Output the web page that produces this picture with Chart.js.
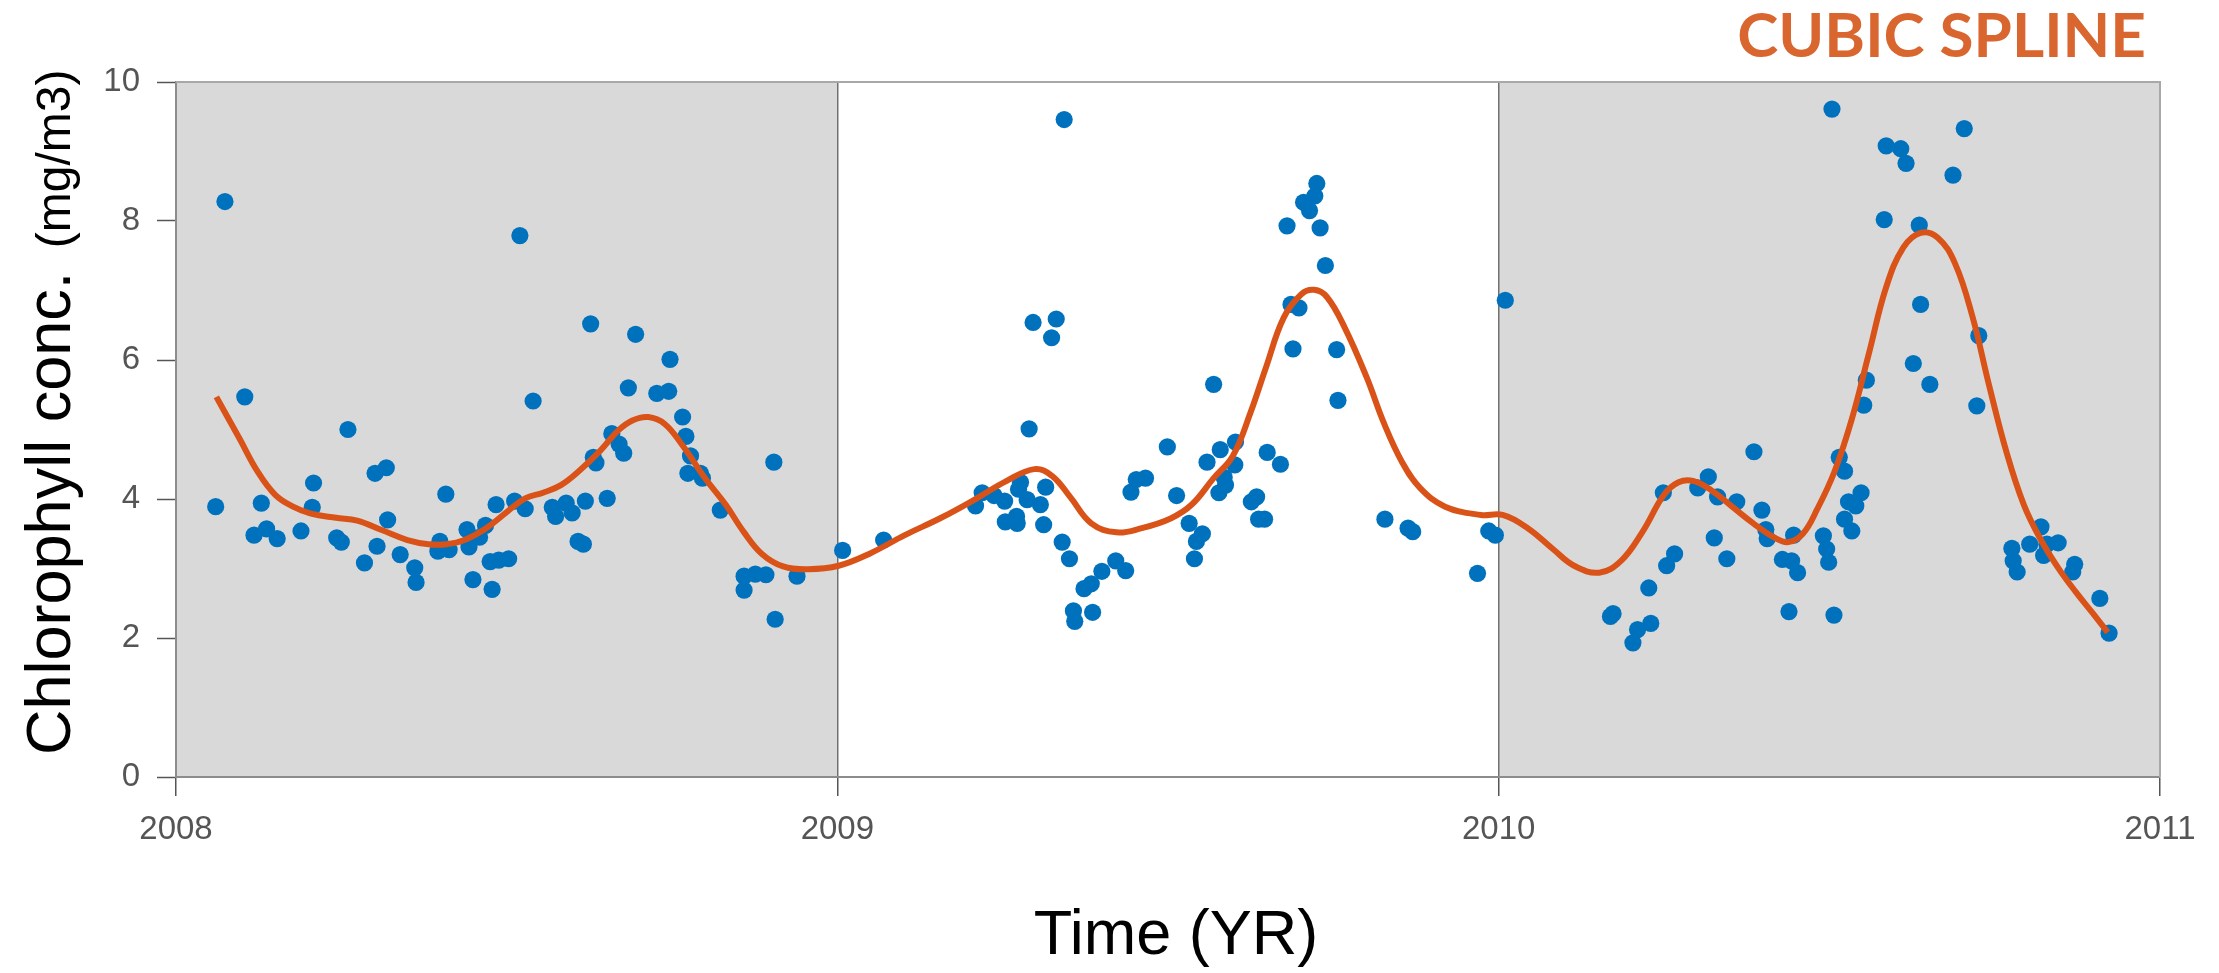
<!DOCTYPE html>
<html>
<head>
<meta charset="utf-8">
<title>Cubic spline</title>
<script src="https://cdn.jsdelivr.net/npm/chart.js@4.4.1/dist/chart.umd.min.js"></script>
<style>
  body { margin: 0; background: #fff; }
  canvas { display: block; }
</style>
</head>
<body>
<canvas id="chart" width="2219" height="973"></canvas>
<script>
// Observed chlorophyll samples (decimal year, mg/m3)
const sampleYears = [
  2008.060, 2008.074, 2008.104, 2008.129, 2008.118, 2008.137, 2008.153, 2008.189, 2008.206, 2008.208,
  2008.243, 2008.250, 2008.260, 2008.285, 2008.301, 2008.318, 2008.304, 2008.320, 2008.339, 2008.361,
  2008.363, 2008.399, 2008.396, 2008.413, 2008.408, 2008.440, 2008.443, 2008.459, 2008.468, 2008.449,
  2008.478, 2008.475, 2008.488, 2008.503, 2008.484, 2008.512, 2008.520, 2008.528, 2008.540, 2008.569,
  2008.574, 2008.590, 2008.599, 2008.608, 2008.616, 2008.619, 2008.627, 2008.631, 2008.635, 2008.652,
  2008.659, 2008.670, 2008.677, 2008.684, 2008.695, 2008.727, 2008.745, 2008.747, 2008.766, 2008.771,
  2008.778, 2008.774, 2008.793, 2008.796, 2008.823, 2008.904, 2008.859, 2008.876, 2008.892, 2008.859,
  2008.906, 2008.939,
  2009.008, 2009.070, 2009.219, 2009.209, 2009.237, 2009.253, 2009.277, 2009.274, 2009.287, 2009.307,
  2009.315, 2009.254, 2009.271, 2009.272, 2009.312, 2009.290, 2009.296, 2009.331, 2009.324, 2009.343,
  2009.340, 2009.351, 2009.373, 2009.384, 2009.357, 2009.359, 2009.386, 2009.400, 2009.421, 2009.436,
  2009.444, 2009.452, 2009.466, 2009.499, 2009.513, 2009.532, 2009.552, 2009.543, 2009.540, 2009.569,
  2009.559, 2009.579, 2009.602, 2009.585, 2009.587, 2009.601, 2009.577, 2009.626, 2009.650, 2009.670,
  2009.634, 2009.637, 2009.646, 2009.680, 2009.705, 2009.714, 2009.722, 2009.725, 2009.730, 2009.738,
  2009.686, 2009.698, 2009.689, 2009.755, 2009.757, 2009.828, 2009.863, 2009.870, 2009.968, 2009.985,
  2009.995,
  2010.010, 2010.173, 2010.169, 2010.210, 2010.203, 2010.230, 2010.227, 2010.254, 2010.266, 2010.249,
  2010.301, 2010.317, 2010.331, 2010.360, 2010.326, 2010.345, 2010.386, 2010.398, 2010.404, 2010.406,
  2010.429, 2010.439, 2010.446, 2010.443, 2010.452, 2010.491, 2010.496, 2010.499, 2010.507, 2010.504,
  2010.515, 2010.523, 2010.523, 2010.534, 2010.529, 2010.540, 2010.548, 2010.552, 2010.556, 2010.586,
  2010.608, 2010.616, 2010.583, 2010.636, 2010.638, 2010.627, 2010.652, 2010.687, 2010.704, 2010.726,
  2010.723, 2010.776, 2010.778, 2010.784, 2010.803, 2010.820, 2010.824, 2010.829, 2010.846, 2010.871,
  2010.868, 2010.909, 2010.923
];
const sampleValues = [
  3.89, 8.28, 5.47, 3.94, 3.48, 3.57, 3.43, 3.54, 3.88, 4.23,
  3.44, 3.38, 5.00, 3.08, 4.37, 4.45, 3.32, 3.70, 3.20, 3.01,
  2.80, 3.39, 3.25, 3.27, 4.07, 3.56, 3.31, 3.45, 3.62, 2.84,
  2.70, 3.10, 3.12, 3.14, 3.92, 3.97, 7.79, 3.86, 5.41, 3.88,
  3.75, 3.94, 3.80, 3.39, 3.35, 3.97, 6.52, 4.60, 4.52, 4.01,
  4.94, 4.79, 4.66, 5.60, 6.37, 5.52, 5.55, 6.01, 5.18, 4.90,
  4.62, 4.37, 4.37, 4.30, 3.84, 4.53, 2.89, 2.92, 2.91, 2.69,
  2.27, 2.89,
  3.26, 3.41, 4.09, 3.90, 4.05, 3.97, 4.24, 4.14, 3.99, 3.92,
  4.17, 3.67, 3.75, 3.65, 3.63, 5.01, 6.54, 6.59, 6.32, 9.46,
  3.38, 3.14, 2.71, 2.78, 2.39, 2.24, 2.37, 2.96, 3.11, 2.97,
  4.10, 4.28, 4.30, 4.75, 4.05, 3.65, 3.50, 3.39, 3.14, 5.65,
  4.53, 4.71, 4.82, 4.31, 4.20, 4.49, 4.09, 3.96, 4.67, 4.50,
  4.03, 3.71, 3.71, 7.93, 8.27, 8.15, 8.36, 8.54, 7.90, 7.36,
  6.80, 6.75, 6.16, 6.15, 5.42, 3.71, 3.58, 3.53, 2.93, 3.54,
  3.48,
  6.86, 2.35, 2.31, 2.12, 1.93, 2.21, 2.72, 3.04, 3.21, 4.09,
  4.16, 4.32, 4.03, 3.96, 3.44, 3.14, 4.68, 3.84, 3.56, 3.43,
  3.13, 2.38, 3.48, 3.11, 2.94, 3.47, 3.28, 3.09, 2.33, 9.61,
  4.60, 4.40, 3.71, 3.54, 3.96, 3.90, 4.09, 5.35, 5.71, 9.08,
  9.04, 8.83, 8.02, 7.94, 6.80, 5.95, 5.65, 8.66, 9.33, 6.35,
  5.34, 3.29, 3.11, 2.95, 3.35, 3.60, 3.19, 3.35, 3.37, 3.06,
  2.95, 2.57, 2.07
];

// Cubic spline fit
const splineYears = [
  2008.061, 2008.096, 2008.123, 2008.150, 2008.177, 2008.204, 2008.242, 2008.274, 2008.312, 2008.350,
  2008.382, 2008.409, 2008.436, 2008.469, 2008.501, 2008.528, 2008.555, 2008.582, 2008.609, 2008.642,
  2008.668, 2008.690, 2008.714, 2008.739, 2008.766, 2008.800, 2008.831, 2008.859, 2008.886, 2008.918,
  2008.956, 2009.002, 2009.048, 2009.102, 2009.157, 2009.211, 2009.254, 2009.298, 2009.325, 2009.352,
  2009.384, 2009.422, 2009.460, 2009.504, 2009.536, 2009.569, 2009.598, 2009.625, 2009.648, 2009.675,
  2009.702, 2009.721, 2009.740, 2009.767, 2009.800, 2009.827, 2009.854, 2009.881, 2009.919, 2009.973,
  2010.006, 2010.044, 2010.082, 2010.114, 2010.152, 2010.185, 2010.217, 2010.250, 2010.272, 2010.294,
  2010.321, 2010.353, 2010.385, 2010.418, 2010.438, 2010.460, 2010.482, 2010.508, 2010.534, 2010.560,
  2010.586, 2010.612, 2010.638, 2010.664, 2010.690, 2010.716, 2010.742, 2010.768, 2010.794, 2010.820,
  2010.846, 2010.872, 2010.898, 2010.921
];
const splineValues = [
  5.47, 4.87, 4.40, 4.06, 3.89, 3.79, 3.73, 3.69, 3.55, 3.41,
  3.35, 3.35, 3.41, 3.58, 3.82, 4.01, 4.09, 4.20, 4.40, 4.70,
  4.98, 5.13, 5.18, 5.08, 4.77, 4.30, 3.92, 3.52, 3.21, 3.03,
  2.99, 3.04, 3.21, 3.48, 3.73, 4.01, 4.25, 4.43, 4.33, 4.03,
  3.65, 3.52, 3.58, 3.72, 3.92, 4.30, 4.62, 5.25, 5.89, 6.61,
  6.95, 7.01, 6.91, 6.47, 5.76, 5.08, 4.53, 4.16, 3.89, 3.77,
  3.77, 3.58, 3.28, 3.04, 2.94, 3.11, 3.52, 4.06, 4.24, 4.26,
  4.13, 3.89, 3.65, 3.44, 3.38, 3.50, 3.86, 4.40, 5.15, 6.10,
  7.05, 7.62, 7.83, 7.76, 7.39, 6.64, 5.62, 4.67, 3.92, 3.41,
  3.01, 2.67, 2.36, 2.08
];

const yearTicks = [2008, 2009, 2010, 2011];
const valueTicks = [0, 2, 4, 6, 8, 10];
const shadedYears = [[2008, 2009], [2010, 2011]];

const chartTitle = 'CUBIC SPLINE';
const xTitle = 'Time (YR)';
const yTitleMain = 'Chlorophyll conc.';
const yTitleUnit = '(mg/m3)';

const tickFont = { family: "'Liberation Sans', Arial, sans-serif", size: 33 };

// Gray bands behind alternate years plus the frame
const bandsPlugin = {
  id: 'bands',
  beforeDraw(chart) {
    const { ctx, chartArea, scales } = chart;
    ctx.save();
    ctx.fillStyle = '#d9d9d9';
    shadedYears.forEach(([a, b]) => {
      const x1 = scales.x.getPixelForValue(a);
      const x2 = scales.x.getPixelForValue(b);
      ctx.fillRect(x1, chartArea.top, x2 - x1, chartArea.bottom - chartArea.top);
    });
    ctx.restore();
  },
  afterDraw(chart) {
    const { ctx, chartArea } = chart;
    ctx.save();
    ctx.strokeStyle = '#a8a8a8';
    ctx.lineWidth = 2;
    ctx.beginPath();
    ctx.moveTo(chartArea.left, chartArea.top);
    ctx.lineTo(chartArea.right, chartArea.top);
    ctx.lineTo(chartArea.right, chartArea.bottom);
    ctx.stroke();

    // title
    ctx.fillStyle = '#d9652f';
    ctx.font = "bold 62px Lato, 'Open Sans', sans-serif";
    ctx.textAlign = 'right';
    ctx.textBaseline = 'alphabetic';
    ctx.fillText(chartTitle, 2146, 57);

    // x axis title
    ctx.fillStyle = '#000';
    ctx.font = "63px 'Liberation Sans', Arial, sans-serif";
    ctx.textAlign = 'center';
    ctx.fillText(xTitle, 1176, 954);

    // y axis title, two sizes
    ctx.translate(70, 755);
    ctx.rotate(-Math.PI / 2);
    ctx.textAlign = 'left';
    ctx.font = "63px 'Liberation Sans', Arial, sans-serif";
    ctx.fillText(yTitleMain, 0, 0);
    const w = ctx.measureText(yTitleMain + ' ').width + 6;
    ctx.font = "48px 'Liberation Sans', Arial, sans-serif";
    ctx.fillText(yTitleUnit, w, 0);
    ctx.restore();
  }
};

const ctx = document.getElementById('chart').getContext('2d');

new Chart(ctx, {
  type: 'scatter',
  data: {
    datasets: [
      {
        type: 'line',
        label: 'Cubic spline',
        data: splineYears.map((x, i) => ({ x, y: splineValues[i] })),
        borderColor: '#d95319',
        borderWidth: 6,
        pointRadius: 0,
        tension: 0.4,
        fill: false,
        order: 0
      },
      {
        label: 'Samples',
        data: sampleYears.map((x, i) => ({ x, y: sampleValues[i] })),
        backgroundColor: '#0072bd',
        borderWidth: 0,
        pointRadius: 8.6,
        order: 1
      }
    ]
  },
  options: {
    responsive: false,
    animation: false,
    layout: { padding: { left: 0, right: 59, top: 82, bottom: 0 } },
    plugins: {
      legend: { display: false },
      tooltip: { enabled: false }
    },
    scales: {
      x: {
        type: 'linear',
        min: yearTicks[0],
        max: yearTicks[yearTicks.length - 1],
        afterBuildTicks: s => { s.ticks = yearTicks.map(v => ({ value: v })); },
        afterFit: s => { s.height = 196; },
        ticks: {
          font: tickFont,
          color: '#555',
          padding: 14,
          maxRotation: 0,
          callback: v => String(v)
        },
        grid: {
          drawOnChartArea: true,
          drawTicks: true,
          tickLength: 19,
          tickColor: '#555',
          tickWidth: 1.5,
          lineWidth: 1.5,
          color: c => (c.tick && (c.tick.value === 2009 || c.tick.value === 2010)) ? '#707070' : 'rgba(0,0,0,0)'
        },
        border: { display: true, color: '#8c8c8c', width: 2 }
      },
      y: {
        min: valueTicks[0],
        max: valueTicks[valueTicks.length - 1],
        afterBuildTicks: s => { s.ticks = valueTicks.map(v => ({ value: v })); },
        afterFit: s => { s.width = 176; },
        ticks: {
          font: tickFont,
          color: '#555',
          padding: 17
        },
        grid: {
          drawOnChartArea: false,
          drawTicks: true,
          tickLength: 19,
          tickColor: '#555',
          tickWidth: 1.5
        },
        border: { display: true, color: '#8c8c8c', width: 2 }
      }
    }
  },
  plugins: [bandsPlugin]
});
</script>
</body>
</html>
